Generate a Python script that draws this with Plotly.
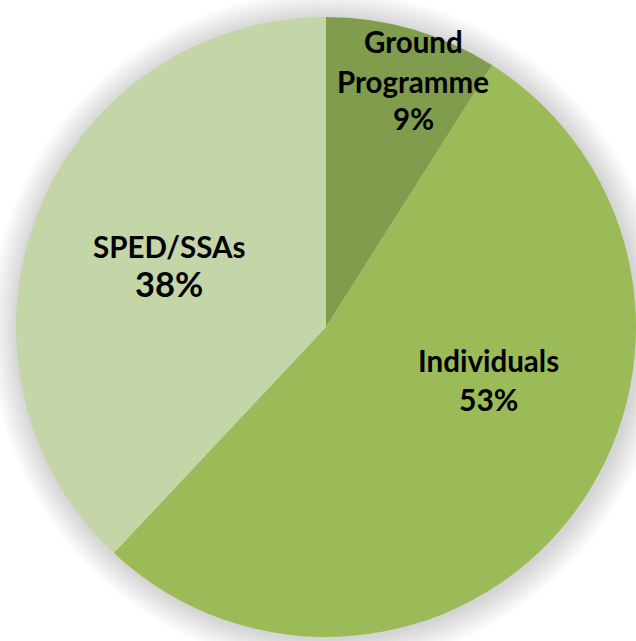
import plotly.graph_objects as go

# Data
labels = ["Ground<br>Programme", "Individuals", "SPED/SSAs"]
values = [9, 53, 38]
colors = ["#7F9D4D", "#9BBB59", "#C4D5A8"]

W, H = 636, 641
cx, cy, r = 326, 327, 310  # pixel centre/radius of pie

def px_x(p):
    return p / W

def px_y(p):
    return 1 - p / H

fig = go.Figure()
fig.add_trace(go.Pie(
    labels=labels,
    values=values,
    sort=False,
    direction="clockwise",
    rotation=0,
    marker=dict(colors=colors, line=dict(width=0)),
    textinfo="none",
    hoverinfo="label+percent",
    showlegend=False,
    domain=dict(x=[px_x(cx - r), min(1.0, px_x(cx + r))],
                y=[px_y(cy + r), px_y(cy - r)]),
))

# soft shadow
shapes = []
n = 14
for k in range(n, 0, -1):
    rr = r + 2 * k
    shapes.append(dict(
        type="circle", xref="paper", yref="paper", layer="below",
        x0=px_x(cx + 2 - rr), x1=px_x(cx + 2 + rr),
        y0=px_y(cy + 2 + rr), y1=px_y(cy + 2 - rr),
        fillcolor="rgba(0,0,0,0.010)", line=dict(width=0),
    ))

# labels: x centre and per-line y centres (screen px)
label_x = [413, 488, 169]
label_line_y = [[42, 81.5], [360.5], [246]]
pct_y = [118.5, 399, 283]
pct_sizes = [29.5, 30, 34.5]
label_size = 29.5
annotations = []
total = sum(values)

def ann(text, x, y, size):
    return dict(
        x=px_x(x), y=px_y(y), xref="paper", yref="paper",
        xanchor="center", yanchor="middle", showarrow=False,
        text=f"<b>{text}</b>",
        font=dict(family="Lato, sans-serif", size=size, color="#000000"),
    )

for lab, v, x, ys, py, ps in zip(labels, values, label_x, label_line_y, pct_y, pct_sizes):
    for line, y in zip(lab.split("<br>"), ys):
        annotations.append(ann(line, x, y, label_size))
    pct = round(100 * v / total)
    annotations.append(ann(f"{pct}%", x, py, ps))

fig.update_layout(
    width=W, height=H,
    margin=dict(l=0, r=0, t=0, b=0),
    paper_bgcolor="white",
    plot_bgcolor="white",
    shapes=shapes,
    annotations=annotations,
)

fig.write_html(
    "out.html",
    config={"displayModeBar": False},
    post_script=(
        "document.body.style.margin='0';"
        "document.documentElement.style.overflow='hidden';"
        "document.body.style.overflow='hidden';"
    ),
)
